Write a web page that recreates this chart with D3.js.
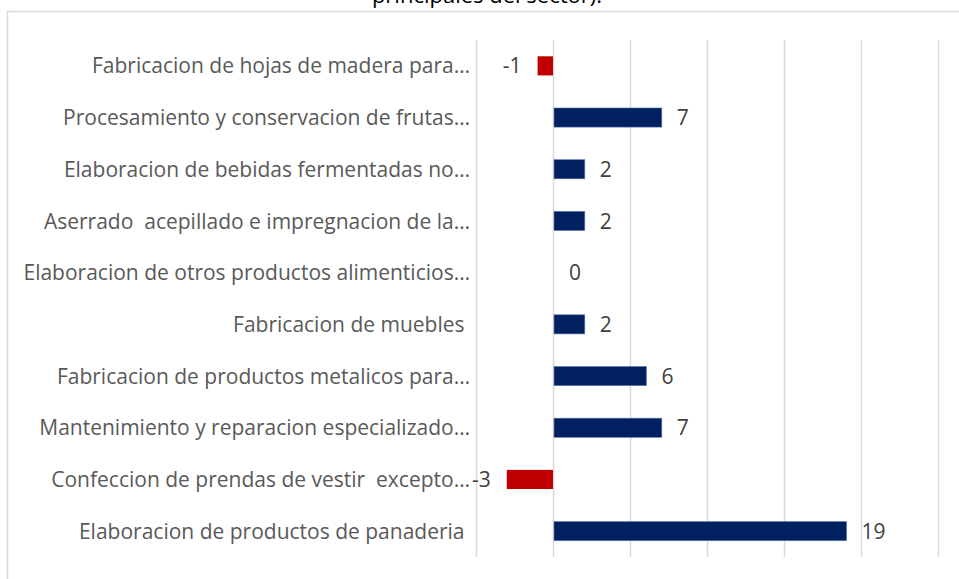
<!DOCTYPE html>
<html lang="es">
<head>
    <meta charset="UTF-8">
    <title>Variacion por actividad</title>
    <style>
        body { margin: 0; background: #fff; }
        svg { display: block; font-family: "Open Sans", sans-serif; }
        .cat { white-space: pre; }
    </style>
</head>
<body>
    <script src="https://cdnjs.cloudflare.com/ajax/libs/d3/7.8.5/d3.min.js"></script>
    <script>
        // categorias de arriba hacia abajo
        var categories = [
            'Fabricacion de hojas de madera para…',
            'Procesamiento y conservacion de frutas…',
            'Elaboracion de bebidas fermentadas no…',
            'Aserrado  acepillado e impregnacion de la…',
            'Elaboracion de otros productos alimenticios…',
            'Fabricacion de muebles ',
            'Fabricacion de productos metalicos para…',
            'Mantenimiento y reparacion especializado…',
            'Confeccion de prendas de vestir  excepto…',
            'Elaboracion de productos de panaderia '
        ];
        var values = [-1, 7, 2, 2, 0, 2, 6, 7, -3, 19];
        var gridTicks = [-5, 0, 5, 10, 15, 20, 25];
        var titleTail = 'principales del sector).';

        var width = 959, height = 579;

        var svg = d3.select('body')
            .append('svg')
            .attr('width', width)
            .attr('height', height);

        // marco del grafico (se sale por la derecha y abajo)
        svg.append('rect')
            .attr('x', 7.5)
            .attr('y', 11.5)
            .attr('width', 1000)
            .attr('height', 1000)
            .attr('fill', 'none')
            .attr('stroke', '#d9d9d9')
            .attr('stroke-width', 1.5);

        // titulo cortado arriba
        svg.append('text')
            .attr('x', 487)
            .attr('y', 3)
            .attr('text-anchor', 'middle')
            .style('font-size', '22px')
            .style('fill', '#000')
            .text(titleTail);

        var x = d3.scaleLinear().domain([-5, 25]).range([476, 938]);
        var y = d3.scaleBand().domain(categories).range([40, 557]).paddingInner(0.63).paddingOuter(0.315);

        // lineas verticales de la grilla
        var grid = svg.append('g')
            .attr('transform', 'translate(0,40)')
            .call(d3.axisBottom(x).tickValues(gridTicks).tickSize(517).tickFormat(''));
        grid.select('.domain').remove();
        grid.selectAll('.tick line').attr('stroke', '#d9d9d9').attr('stroke-width', 1.5);

        // etiquetas de categoria
        var yAxis = svg.append('g')
            .attr('transform', 'translate(470,0)')
            .call(d3.axisLeft(y).tickSize(0).tickPadding(0));
        yAxis.select('.domain').remove();
        yAxis.selectAll('.tick text')
            .attr('class', 'cat')
            .attr('dy', '0.36em')
            .style('font-family', '"Open Sans", sans-serif')
            .style('font-size', '21px')
            .style('fill', '#595959');

        // barras
        svg.selectAll('.bar')
            .data(values)
            .enter()
            .append('rect')
            .attr('class', 'bar')
            .attr('x', function (d) { return x(Math.min(0, d)) + (d >= 0 ? 1 : 0); })
            .attr('y', function (d, i) { return y(categories[i]); })
            .attr('width', function (d) { return Math.abs(x(d) - x(0)); })
            .attr('height', y.bandwidth())
            .attr('fill', function (d) { return d < 0 ? '#c00000' : '#002060'; })
            .attr('stroke', function (d) { return d < 0 ? 'none' : '#5a78b0'; })
            .attr('stroke-width', 0.6);

        // etiquetas de valor
        svg.selectAll('.val')
            .data(values)
            .enter()
            .append('text')
            .attr('class', 'val')
            .attr('x', function (d) { return d < 0 ? x(d) - 16 : x(d) + 16; })
            .attr('y', function (d, i) { return y(categories[i]) + y.bandwidth() / 2; })
            .attr('dy', '0.36em')
            .attr('text-anchor', function (d) { return d < 0 ? 'end' : 'start'; })
            .style('font-size', '21px')
            .style('fill', '#404040')
            .text(function (d) { return d; });
    </script>
</body>
</html>
